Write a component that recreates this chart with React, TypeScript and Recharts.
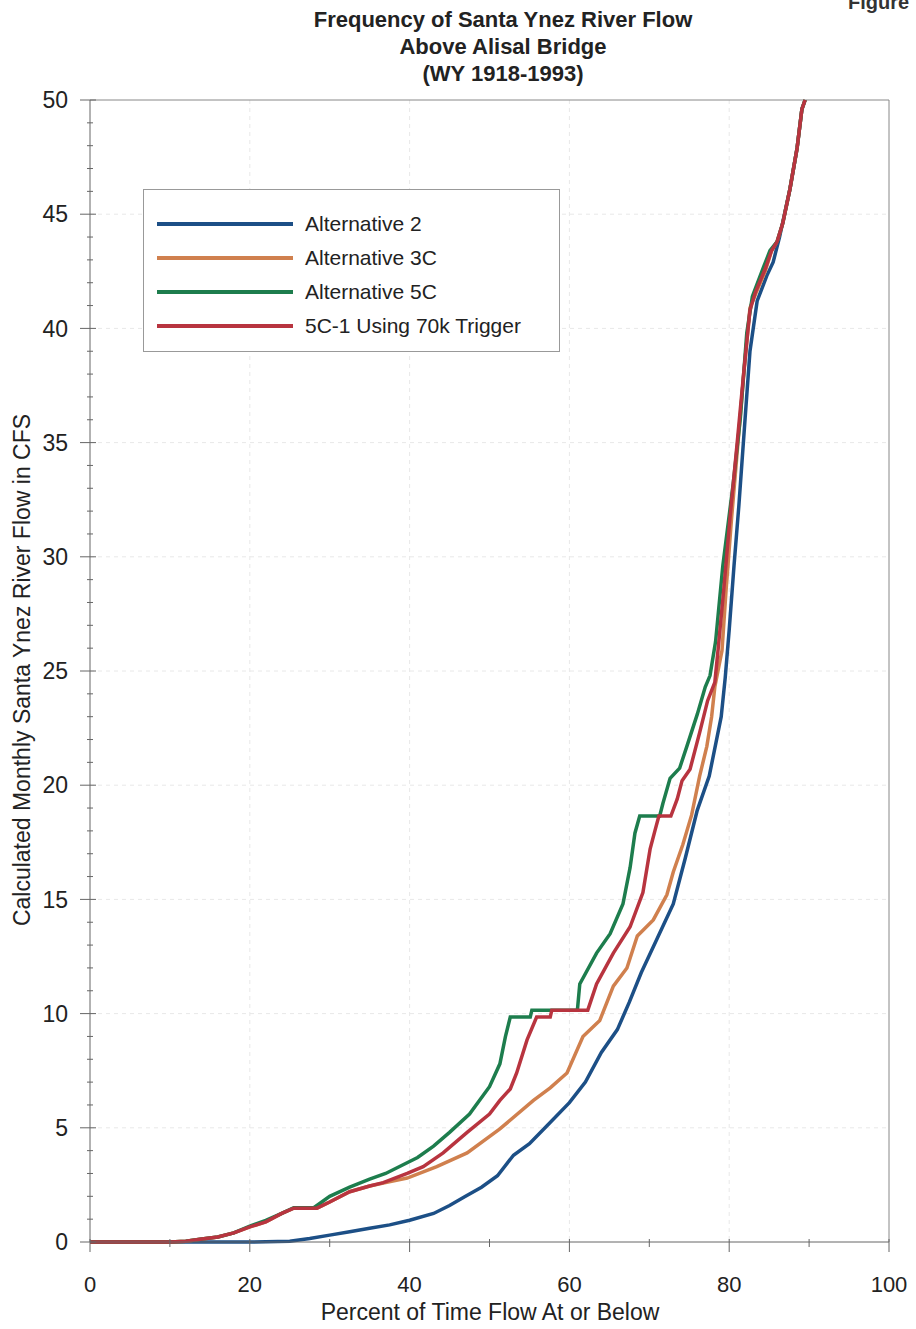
import React from 'react';
import { LineChart, Line, XAxis, YAxis, CartesianGrid, Legend, ReferenceLine } from 'recharts';

// percent of time flow at or below (x) vs calculated monthly flow in CFS (y)
const alt2Pct = [0, 10, 20, 25, 27.5, 30, 32.5, 35, 37.5, 40, 43, 45, 47, 49, 51, 53, 55, 57.5, 60, 62, 64, 66, 67.5, 69, 71, 73, 74.5, 76, 77.5, 79, 79.5, 80, 80.6, 81.2, 82, 82.6, 83.5, 84.7, 85.5, 86.3, 87.6, 88.5, 89.1, 89.5];
const alt2Flow = [0, 0, 0, 0.03, 0.15, 0.3, 0.45, 0.6, 0.75, 0.95, 1.25, 1.6, 2.0, 2.4, 2.9, 3.8, 4.3, 5.2, 6.1, 7.0, 8.3, 9.3, 10.5, 11.8, 13.3, 14.8, 16.8, 18.9, 20.4, 23.0, 24.7, 26.8, 29.6, 32.2, 36.1, 39.0, 41.2, 42.3, 42.9, 44.0, 46.1, 47.9, 49.6, 50];

const alt3cPct = [0, 10, 12, 14, 16, 18, 20, 22, 24, 25.5, 28.4, 30, 32.5, 35, 37, 39.7, 43.4, 47.2, 51.3, 55.5, 57.6, 59.7, 61.7, 63.8, 65.5, 67.2, 68.5, 70.5, 72.2, 73.0, 74.2, 75.3, 76.3, 77.2, 77.8, 78.2, 79.1, 79.6, 80.3, 81.1, 81.9, 82.6, 83.3, 84.5, 85.3, 86, 86.7, 87.6, 88.5, 89.1, 89.5];
const alt3cFlow = [0, 0, 0.03, 0.13, 0.22, 0.4, 0.66, 0.88, 1.25, 1.48, 1.48, 1.75, 2.2, 2.45, 2.6, 2.8, 3.3, 3.9, 4.95, 6.2, 6.75, 7.4, 9.0, 9.7, 11.2, 12.0, 13.4, 14.1, 15.2, 16.2, 17.4, 18.7, 20.4, 21.7, 23.0, 24.3, 25.9, 28.5, 31.7, 35.0, 38.3, 40.9, 41.5, 42.5, 43.4, 43.8, 44.6, 46.1, 47.9, 49.6, 50];

const alt5cPct = [0, 10, 12, 14, 16, 18, 20, 22, 24, 25.5, 28, 28.4, 30, 32.5, 35, 37, 39, 41, 43, 45, 47.5, 50, 51.3, 52, 52.6, 55.1, 55.3, 61.0, 61.3, 63.4, 65.1, 66.7, 67.6, 68.2, 68.8, 71.3, 71.7, 72.6, 73.8, 74.7, 76, 77, 77.6, 78.3, 79.2, 80.5, 81.4, 82.2, 82.9, 84.2, 85.1, 86, 86.7, 87.6, 88.5, 89.1, 89.5];
const alt5cFlow = [0, 0, 0.03, 0.13, 0.22, 0.4, 0.7, 0.95, 1.25, 1.5, 1.5, 1.6, 2.0, 2.4, 2.75, 3.0, 3.35, 3.7, 4.2, 4.8, 5.6, 6.8, 7.8, 9.0, 9.85, 9.85, 10.15, 10.15, 11.3, 12.65, 13.5, 14.8, 16.4, 17.9, 18.65, 18.65, 19.2, 20.3, 20.75, 21.7, 23.1, 24.3, 24.8, 26.3, 29.6, 33.2, 36.1, 39.8, 41.4, 42.6, 43.4, 43.8, 44.6, 46.1, 47.9, 49.6, 50];

const alt5c1Pct = [0, 10, 12, 14, 16, 18, 20, 22, 24, 25.5, 28.4, 30, 32.5, 35, 36.7, 39.7, 41.7, 44.2, 47.2, 50, 51.3, 52.6, 53.4, 54.7, 55.9, 57.6, 57.8, 62.3, 63.4, 65.5, 67.6, 69.2, 70.1, 70.7, 71.2, 72.7, 73.5, 74.1, 75.1, 76.3, 77.3, 78.2, 78.6, 79.3, 80.1, 81, 81.8, 82.6, 83.3, 84.5, 85.3, 86, 86.7, 87.6, 88.5, 89.1, 89.5];
const alt5c1Flow = [0, 0, 0.03, 0.13, 0.22, 0.4, 0.66, 0.88, 1.25, 1.48, 1.48, 1.75, 2.2, 2.45, 2.6, 3.0, 3.3, 3.9, 4.8, 5.6, 6.2, 6.7, 7.4, 8.85, 9.85, 9.85, 10.15, 10.15, 11.3, 12.65, 13.8, 15.3, 17.2, 18.0, 18.65, 18.65, 19.4, 20.2, 20.7, 22.3, 23.7, 24.5, 25.9, 28.5, 31.7, 35.0, 38.0, 40.8, 41.6, 42.6, 43.4, 43.8, 44.6, 46.1, 47.9, 49.6, 50];

const xTicks = [0, 10, 20, 30, 40, 50, 60, 70, 80, 90, 100];
const yTicks = Array.from({ length: 51 }, (_, i) => i);

const toPoints = (xs: number[], ys: number[]) => xs.map((x, i) => ({ pct: x, flow: ys[i] }));

const series = [
  { name: 'Alternative 2', color: '#1c4f86', data: toPoints(alt2Pct, alt2Flow) },
  { name: 'Alternative 3C', color: '#d0804e', data: toPoints(alt3cPct, alt3cFlow) },
  { name: 'Alternative 5C', color: '#1d7d4d', data: toPoints(alt5cPct, alt5cFlow) },
  { name: '5C-1 Using 70k Trigger', color: '#b8343f', data: toPoints(alt5c1Pct, alt5c1Flow) },
];
const seriesOrder = series.map((s) => s.name);

const FONT = '"Liberation Sans", Arial, sans-serif';

const XTick = (props: any) => {
  const { x, y, payload } = props;
  const major = payload.value % 20 === 0;
  return (
    <g>
      <line x1={x} x2={x} y1={y - 3} y2={y + (major ? 10 : 5)} stroke="#666" strokeWidth={1} />
      {major && (
        <text x={x} y={y + 50} textAnchor="middle" fontSize={22} fill="#222" fontFamily={FONT}>
          {payload.value}
        </text>
      )}
    </g>
  );
};

const YTick = (props: any) => {
  const { x, y, payload } = props;
  const major = payload.value % 5 === 0;
  return (
    <g>
      <line x1={x - (major ? 10 : 3)} x2={x + (major ? 6 : 3)} y1={y} y2={y} stroke="#666" strokeWidth={1} />
      {major && (
        <text x={x - 22} y={y} dy="0.36em" textAnchor="end" fontSize={23} fill="#222" fontFamily={FONT}>
          {payload.value}
        </text>
      )}
    </g>
  );
};

const LegendBox = (props: any) => {
  const items = [...(props.payload || [])].sort(
    (a: any, b: any) => seriesOrder.indexOf(a.value) - seriesOrder.indexOf(b.value)
  );
  return (
    <div style={{ border: '1px solid #999', width: 417, height: 163, boxSizing: 'border-box', paddingTop: 17, background: '#fff' }}>
      {items.map((p: any) => (
        <div key={p.value} style={{ height: 34, display: 'flex', alignItems: 'center' }}>
          <div style={{ marginLeft: 13, width: 136, height: 3.5, background: p.color }} />
          <span style={{ marginLeft: 12, fontSize: 21, color: '#222', fontFamily: FONT }}>{p.value}</span>
        </div>
      ))}
    </div>
  );
};

export default function App() {
  return (
    <div style={{ position: 'absolute', left: 0, top: 0, width: 916, height: 1329, background: '#fff', fontFamily: FONT, overflow: 'hidden' }}>
      <div style={{ position: 'absolute', left: 203, top: 6, width: 600, textAlign: 'center', fontWeight: 'bold', fontSize: 22, lineHeight: '27px', color: '#222' }}>
        Frequency of Santa Ynez River Flow<br />Above Alisal Bridge<br />(WY 1918-1993)
      </div>
      <div style={{ position: 'absolute', left: 848, top: -9, fontSize: 20, fontWeight: 'bold', color: '#333' }}>Figure</div>
      <LineChart width={916} height={1329} margin={{ top: 100, right: 27, bottom: 27, left: 50 }}>
        <CartesianGrid horizontalValues={[5, 10, 15, 20, 25, 30, 35, 40, 45]} verticalValues={[20, 40, 60, 80]} stroke="#e8e8e8" strokeDasharray="4 4" />
        <XAxis
          dataKey="pct"
          type="number"
          domain={[0, 100]}
          ticks={xTicks}
          interval={0}
          height={60}
          tickSize={0}
          tickMargin={0}
          tickLine={false}
          axisLine={{ stroke: '#666' }}
          tick={<XTick />}
          allowDuplicatedCategory={false}
        />
        <YAxis
          dataKey="flow"
          type="number"
          domain={[0, 50]}
          ticks={yTicks}
          interval={0}
          width={40}
          tickSize={0}
          tickMargin={0}
          tickLine={false}
          axisLine={{ stroke: '#666' }}
          tick={<YTick />}
        />
        <ReferenceLine y={50} stroke="#888" />
        <ReferenceLine x={100} stroke="#888" />
        <Legend
          content={<LegendBox />}
          layout="vertical"
          verticalAlign="middle"
          align="center"
          wrapperStyle={{ position: 'absolute', left: 143, top: 189, width: 417, height: 163 }}
        />
        {series.map((s) => (
          <Line
            key={s.name}
            name={s.name}
            data={s.data}
            dataKey="flow"
            type="linear"
            stroke={s.color}
            strokeWidth={3.5}
            dot={false}
            activeDot={false}
            isAnimationActive={false}
          />
        ))}
      </LineChart>
      <div style={{ position: 'absolute', left: 190, top: 1299, width: 600, textAlign: 'center', fontSize: 23, lineHeight: '26px', color: '#222' }}>
        Percent of Time Flow At or Below
      </div>
      <div style={{ position: 'absolute', left: -278, top: 657, width: 600, textAlign: 'center', fontSize: 23, lineHeight: '26px', color: '#222', transform: 'rotate(-90deg)' }}>
        Calculated Monthly Santa Ynez River Flow in CFS
      </div>
    </div>
  );
}
